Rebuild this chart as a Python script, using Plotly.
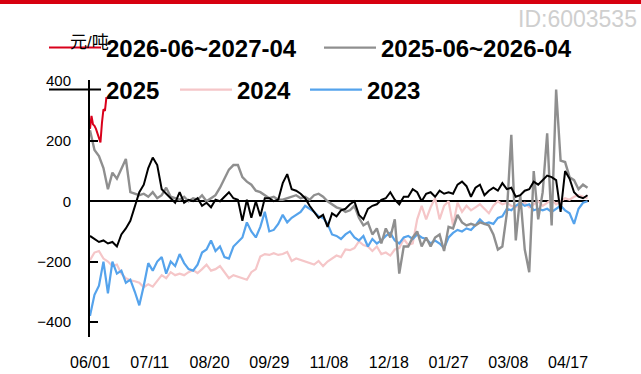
import pandas as pd
import plotly.graph_objects as go

START = "2025-06-01"
END = "2026-05-01"

# values sampled every 3 days from 06/01 (元/吨)
s_2026_27 = [240, 283, 255, 250, 240, 225, 215, 195, 260, 305, 300, 345]  # daily

s_2025_26 = [235, 170, 150, 110, 40, 95, 75, 110, 140, 30,
             25, 20, 25, 15, 30, 10, 20, 45, 15, 10,
             5, 15, 0, 10, 5, 20, 0, 10, 20, 45,
             75, 105, 120, 120, 80, 65, 55, 35, 30, 20,
             10, 15, 5, 5, 10, 15, 20, 10, 15, 5,
             20, 25, 15, 0, -10, -20, -25, -35, -30, -15,
             -55, -80, -70, -110, -90, -140, -90, -120, -60, -240,
             -150, -150, -120, -100, -150, -120, -150, -120, -110, -165,
             -85, -90, -45, -70, -80, -75, -80, -70, -75, -80,
             -110, -160, -150, -40, 220, -130, 20, -160, -235, 100,
             -60, 30, 225, -80, 370, 135, 130, 80, 70, 40,
             55, 45]

s_2025 = [-115, -125, -135, -130, -140, -135, -150, -110, -90, -65,
          -20, 30, 55, 110, 145, 120, 40, 25, 10, -5,
          30, -5, 5, 0, 10, -15, -5, -20, 5, 0,
          15, 30, 10, 5, -65, 5, -55, 0, -50, 10,
          10, 0, 5, 60, 90, 40, 35, 25, 10, -15,
          -35, -55, -45, -85, -40, -50, -30, -25, -10, 0,
          -45, -60, -25, -15, -10, 5, 10, 30, 5, -10,
          15, 15, 40, 30, 0, 25, 30, 15, 35, 25,
          30, 25, 55, 65, 50, 15, 45, 55, 20, 35,
          45, 35, 60, 40, 45, 15, 20, 35, 40, 65,
          55, 70, 85, 80, 70, -35, 100, 75, 30, 15,
          10, 20]

s_2024 = [-195, -170, -165, -190, -200, -215, -210, -240, -255, -262,
          -265, -270, -285, -275, -283, -262, -245, -255, -235, -245,
          -240, -245, -235, -228, -238, -225, -210, -230, -225, -215,
          -235, -255, -245, -250, -255, -260, -235, -225, -183, -175,
          -178, -172, -178, -175, -168, -198, -190, -195, -200, -206,
          -210, -198, -215, -200, -190, -180, -185, -160, -162, -155,
          -133, -145, -150, -165, -150, -175, -170, -180, -160, -155,
          -125, -145, -140, -60, -15, -60, -20, 10, -60, -15,
          0, -80, -5, -35, -15, -30, -20, -10, -25, -40,
          -15, 0, -10, -5, -15, -20, -10, -5, -20, -10,
          0, -15, -5, 5, -10, 0, 10, 5, 15, 20,
          15, 10]

s_2023 = [-380, -310, -280, -200, -305, -200, -240, -230, -270, -260,
          -300, -345, -280, -205, -230, -200, -185, -240, -200, -215,
          -175, -205, -225, -230, -210, -170, -160, -130, -165, -150,
          -185, -190, -150, -135, -120, -70, -100, -120, -85, -35,
          -100, -95, -75, -45, -70, -55, -45, -35, -15, -25,
          -35, -50, -55, -75, -110, -115, -125, -110, -100, -120,
          -130, -115, -150, -125, -140, -130, -115, -105, -130, -140,
          -120, -115, -125, -110, -120, -125, -140, -130, -140, -155,
          -120, -105, -95, -100, -90, -95, -80, -60, -75, -70,
          -75, -55, -50, -25, -30, -15, -5, -15, -10, -30,
          -25, -30, -25, -35, -25, -15, -30, -40, -75, -25,
          -5, 0]

names = ["2026-06~2027-04", "2025-06~2026-04", "2025", "2024", "2023"]
Y_TICKS = [-400, -200, 0, 200, 400]

dates = pd.date_range(START, periods=len(s_2025), freq="3D")
red_dates = pd.date_range(START, periods=len(s_2026_27), freq="D")

W, H = 641, 374
ML, MR, MT, MB = 90, 52, 80, 37
PW, PH = W - ML - MR, H - MT - MB


def px_x(px):
    return (px - ML) / PW


def px_y(py):
    return (H - MB - py) / PH


fig = go.Figure()
# draw order (bottom to top)
specs = [
    (names[3], dates, s_2024, "#f5c6c8", 2.2, "legend4"),
    (names[4], dates, s_2023, "#55a3ec", 2.2, "legend5"),
    (names[1], dates, s_2025_26, "#8f8f8f", 2.4, "legend2"),
    (names[2], dates, s_2025, "#000000", 2.0, "legend3"),
    (names[0], red_dates, s_2026_27, "#d9001b", 2.0, "legend"),
]
for name, x, y, color, w, lg in specs:
    fig.add_trace(go.Scatter(x=x, y=y, name=name, mode="lines",
                             line=dict(color=color, width=w), legend=lg))

FONT = "Liberation Sans, Arial, Noto Sans CJK SC, sans-serif"
legend_pos = {"legend": (49, 48), "legend2": (324, 48), "legend3": (49, 90),
              "legend4": (180, 90), "legend5": (310, 90)}
legend_layout = {}
for key, (lx, ly) in legend_pos.items():
    legend_layout[key] = dict(x=px_x(lx - 5), y=px_y(ly), xanchor="left", yanchor="middle",
                              orientation="h", bgcolor="rgba(0,0,0,0)", borderwidth=0,
                              font=dict(size=24, color="#000000", family=FONT, weight="bold"),
                              itemwidth=52)

fig.update_layout(
    width=W, height=H,
    margin=dict(l=ML, r=MR, t=MT, b=MB, pad=0),
    paper_bgcolor="white", plot_bgcolor="white",
    font=dict(family=FONT, color="#000000"),
    showlegend=True,
    **legend_layout,
    xaxis=dict(type="date", range=[START, END], tick0=START, dtick=40 * 86400000,
               tickformat="%m/%d", showgrid=False, showline=False, zeroline=False,
               ticks="", tickfont=dict(size=16, color="#000000"), ticklabelstandoff=14,
               automargin=False),
    yaxis=dict(range=[-450, 402], tickvals=Y_TICKS, ticks="inside", ticklen=8, tickwidth=2,
               tickcolor="#000000", showline=True, linewidth=2, linecolor="#000000",
               zeroline=True, zerolinecolor="#000000", zerolinewidth=2, showgrid=False,
               tickfont=dict(size=15, color="#000000"), ticklabelstandoff=14,
               automargin=False),
    annotations=[
        dict(text="元/吨", x=px_x(89), y=px_y(42), xref="paper", yref="paper",
             xanchor="center", yanchor="middle", showarrow=False,
             font=dict(size=17, color="#000000", family=FONT)),
        dict(text="ID:6003535", x=px_x(639), y=px_y(19), xref="paper", yref="paper",
             xanchor="right", yanchor="middle", showarrow=False,
             font=dict(size=23, color="#cfcfcf", family=FONT)),
    ],
    shapes=[dict(type="rect", xref="paper", yref="paper", x0=px_x(0), x1=px_x(W),
                 y0=px_y(4), y1=px_y(0), fillcolor="#d7000f", line=dict(width=0),
                 layer="above")],
)

fig.write_html("out.html", config={"displayModeBar": False},
               post_script="document.body.style.margin='0px';document.body.style.overflow='hidden';")
